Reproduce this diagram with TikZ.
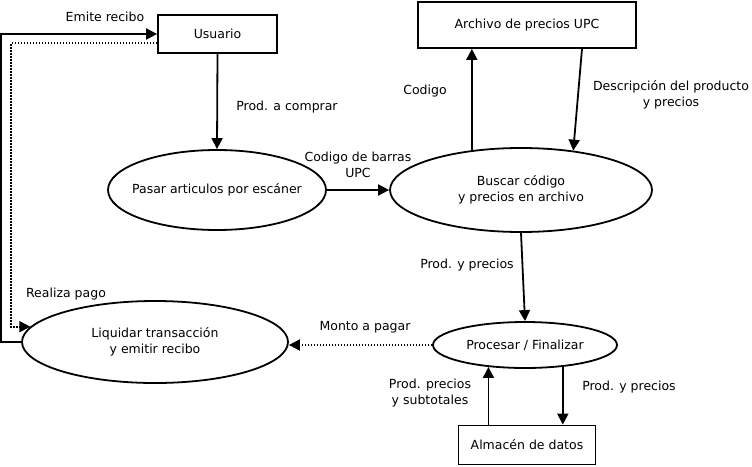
\documentclass[tikz,border=0pt]{standalone}
\usepackage{fontspec}
\setmainfont{DejaVu Sans}
\usetikzlibrary{arrows.meta,shapes.geometric}
\tikzset{>={Triangle[length=11pt,width=11pt]}}
\tikzset{caja/.style={draw,line width=1.8pt,inner sep=0pt},
  proceso/.style={draw,ellipse,line width=1.8pt,inner sep=0pt,align=center},
  flujo/.style={->,line width=1.8pt},
  punteado/.style={->,line width=1.8pt,dash pattern=on 1.6pt off 1.4pt},
  etiq/.style={align=center}}

\begin{document}
\begin{tikzpicture}[x=1pt,y=-1pt,font=\fontsize{12.5}{16}\selectfont]
\useasboundingbox (0,0) rectangle (752,466);
% entidades y procesos
\node[caja,minimum width=119pt,minimum height=38pt] (usuario) at (217.5,34) {Usuario};
\node[caja,minimum width=218pt,minimum height=46pt] (archivo) at (527,25) {Archivo de precios UPC};
\node[proceso,inner xsep=-12pt,minimum width=218pt,minimum height=80pt] (pasar) at (217,190) {Pasar articulos por escáner};
\node[proceso,minimum width=262pt,minimum height=84pt] (buscar) at (521,190) {Buscar código\\ y precios en archivo};
\node[proceso,minimum width=266pt,minimum height=82pt] (liquidar) at (155,342) {Liquidar transacción\\ y emitir recibo};
\node[proceso,minimum width=184pt,minimum height=46pt] (procesar) at (525,345) {Procesar / Finalizar};
\node[caja,minimum width=137pt,minimum height=39pt] (almacen) at (527,445) {Almacén de datos};
% etiquetas de los flujos
\node (lemite) at (105,17) {Emite recibo};
\node (lcompra) at (287,107) {Prod. a comprar};
\node[etiq] (lbarras) at (358,165) {Codigo de barras\\UPC};
\node (lcodigo) at (425,91) {Codigo};
\node[etiq] (ldesc) at (671,95) {Descripción del producto\\y precios};
\node (lprod1) at (467,265) {Prod. y precios};
\node (lpago) at (66,294) {Realiza pago};
\node (lmonto) at (365,327) {Monto a pagar};
\node[etiq] (lsubt) at (430,393) {Prod. precios\\y subtotales};
\node (lprod2) at (629,387) {Prod. y precios};
% flujos
\draw[flujo] (usuario.south) -- (pasar.north);
\draw[flujo] (pasar.east) -- (buscar.west);
\draw[flujo] (buscar.141.5) -- (buscar.141.5 |- archivo.south);
\draw[flujo] ([xshift=55pt]archivo.south) -- (buscar.37.2);
\draw[flujo] (buscar.south) -- (procesar.north);
\draw[flujo] (procesar.-30.5) -- (procesar.-30.5 |- almacen.north);
\draw[flujo] (almacen.north -| procesar.211.4) -- (procesar.211.4);
\draw[punteado] (procesar.west) -- (liquidar.east |- procesar.west);
\draw[flujo] (liquidar.west) -- ++(-20,0) |- (usuario.west);
\draw[punteado] ([yshift=-9pt]usuario.west) -- ++(-146,0) |- (liquidar.173);
\end{tikzpicture}
\end{document}
